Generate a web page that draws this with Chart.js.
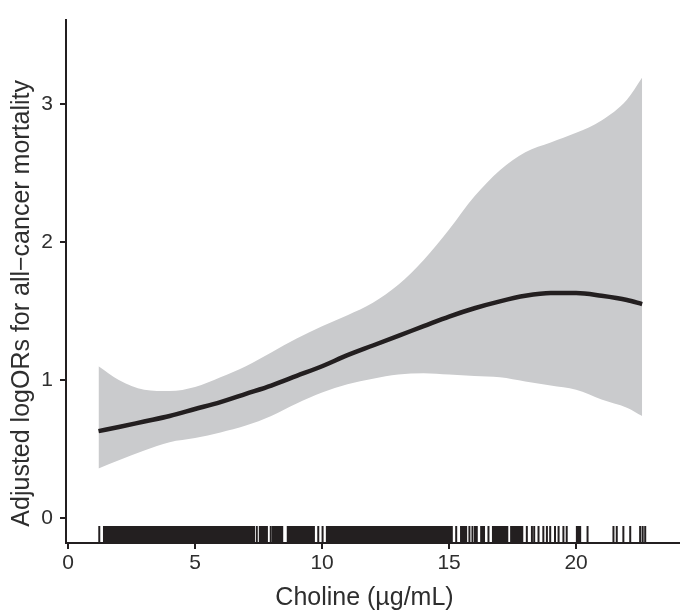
<!DOCTYPE html>
<html>
<head>
<meta charset="utf-8">
<script src="https://cdn.jsdelivr.net/npm/chart.js@4/dist/chart.umd.min.js"></script>
<style>
  html, body { margin: 0; padding: 0; background: #fff; }
  #wrap { width: 685px; height: 612px; }
</style>
</head>
<body>
<div id="wrap"><canvas id="splineChart" width="685" height="612"></canvas></div>
<script>
(function() {
    'use strict';

    // Choline values (µg/mL) where the fitted spline was read
    const cholineX = [1.2, 2, 3, 4, 5, 6, 7, 8, 9, 10, 11, 12, 13, 14, 15, 16, 17, 18, 19, 20, 21, 22, 22.6];
    // Adjusted logOR estimate and 95% CI
    const fitLogOR = [0.63, 0.66, 0.70, 0.74, 0.79, 0.84, 0.90, 0.96, 1.03, 1.10, 1.18, 1.25, 1.32, 1.39, 1.46, 1.52, 1.57, 1.61, 1.63, 1.63, 1.61, 1.58, 1.55];
    const upperCI = [1.10, 1.00, 0.93, 0.92, 0.95, 1.02, 1.10, 1.20, 1.30, 1.39, 1.47, 1.56, 1.69, 1.87, 2.09, 2.33, 2.52, 2.65, 2.72, 2.79, 2.88, 3.03, 3.19];
    const lowerCI = [0.36, 0.42, 0.49, 0.55, 0.58, 0.62, 0.67, 0.74, 0.83, 0.91, 0.97, 1.01, 1.04, 1.05, 1.04, 1.03, 1.02, 0.99, 0.96, 0.93, 0.86, 0.80, 0.74];

    // Rug: stretches where observations are too dense to separate, and single observations
    const rugDense = [[1.37, 7.36], [7.50, 7.87], [8.02, 8.48], [8.60, 9.72], [10.14, 15.15], [15.43, 15.72], [16.22, 16.42], [16.68, 17.34], [17.40, 17.93]];
    const rugSingle = [1.23, 7.43, 7.98, 9.85, 10.02, 15.28, 15.80, 15.92, 16.02, 16.09, 16.55, 18.06, 18.26, 18.35, 18.52, 18.71, 18.85, 18.98, 19.17, 19.31, 19.50, 19.63, 20.03, 20.09, 20.16, 20.45, 21.47, 21.60, 21.86, 22.13, 22.52, 22.62, 22.72];

    const xTicks = [0, 5, 10, 15, 20];
    const yTicks = [0, 1, 2, 3];

    const xTitle = 'Choline (µg/mL)';
    const yTitle = 'Adjusted logORs for all\u2212cancer mortality';

    const rugTop = -0.057;
    const yMin = -0.18;
    const ink = '#231f20';
    const textInk = '#2e2e2e';
    const bandGrey = '#cacbcd';
    const fontFamily = '"Liberation Sans", Arial, Helvetica, sans-serif';

    const toPoints = (ys) => cholineX.map((x, i) => ({ x: x, y: ys[i] }));

    // one short vertical segment per observation, separated by gaps
    const rugLines = [];
    rugSingle.forEach(v => {
        rugLines.push({ x: v, y: rugTop }, { x: v, y: yMin }, { x: v, y: null });
    });

    const datasets = [
        {
            label: 'lower',
            data: toPoints(lowerCI),
            borderWidth: 0,
            pointRadius: 0,
            cubicInterpolationMode: 'monotone',
            fill: false,
            order: 3
        },
        {
            label: 'upper',
            data: toPoints(upperCI),
            borderWidth: 0,
            pointRadius: 0,
            cubicInterpolationMode: 'monotone',
            backgroundColor: bandGrey,
            fill: '-1',
            order: 3
        },
        {
            label: 'fit',
            data: toPoints(fitLogOR),
            borderColor: ink,
            borderWidth: 4.5,
            pointRadius: 0,
            cubicInterpolationMode: 'monotone',
            fill: false,
            order: 0
        },
        {
            label: 'rug',
            data: rugLines,
            borderColor: ink,
            borderWidth: 2,
            pointRadius: 0,
            tension: 0,
            spanGaps: false,
            fill: false,
            order: 1
        }
    ];

    rugDense.forEach(r => {
        datasets.push({
            label: 'rug-dense',
            data: [{ x: r[0], y: rugTop }, { x: r[1], y: rugTop }],
            borderWidth: 0,
            pointRadius: 0,
            tension: 0,
            backgroundColor: ink,
            fill: { value: yMin },
            order: 1
        });
    });

    const whiteBg = {
        id: 'whiteBg',
        beforeDraw(chart) {
            const ctx = chart.ctx;
            ctx.save();
            ctx.fillStyle = '#ffffff';
            ctx.fillRect(0, 0, chart.width, chart.height);
            ctx.restore();
        }
    };

    // axis titles, placed like the original (slightly off the panel centre)
    const axisTitles = {
        id: 'axisTitles',
        afterDraw(chart) {
            const ctx = chart.ctx;
            const area = chart.chartArea;
            ctx.save();
            ctx.fillStyle = textInk;
            ctx.font = '25px ' + fontFamily;
            ctx.textAlign = 'center';
            ctx.textBaseline = 'middle';
            ctx.fillText(xTitle, (area.left + area.right) / 2 - 8, chart.height - 14);
            ctx.translate(22, (area.top + area.bottom) / 2 + 22);
            ctx.rotate(-Math.PI / 2);
            ctx.fillText(yTitle, 0, 0);
            ctx.restore();
        }
    };

    new Chart(document.getElementById('splineChart').getContext('2d'), {
        type: 'line',
        data: { datasets: datasets },
        options: {
            responsive: false,
            animation: false,
            layout: { padding: { top: 12, right: 6, left: 0, bottom: 0 } },
            plugins: {
                legend: { display: false },
                tooltip: { enabled: false }
            },
            scales: {
                x: {
                    type: 'linear',
                    min: -0.08,
                    max: 24.05,
                    afterBuildTicks: (scale) => { scale.ticks = xTicks.map(v => ({ value: v })); },
                    afterFit: (scale) => { scale.height = 69; },
                    border: { display: true, color: ink, width: 2 },
                    grid: { display: true, drawOnChartArea: false, drawTicks: true, tickLength: 6, color: ink, lineWidth: 2 },
                    ticks: {
                        color: textInk,
                        padding: 2,
                        maxRotation: 0,
                        font: { family: fontFamily, size: 21 }
                    },
                    title: { display: false }
                },
                y: {
                    type: 'linear',
                    min: yMin,
                    max: 3.61,
                    afterBuildTicks: (scale) => { scale.ticks = yTicks.map(v => ({ value: v })); },
                    afterFit: (scale) => { scale.width = 66; },
                    border: { display: true, color: ink, width: 2 },
                    grid: { display: true, drawOnChartArea: false, drawTicks: true, tickLength: 6, color: ink, lineWidth: 2 },
                    ticks: {
                        color: textInk,
                        padding: 7,
                        font: { family: fontFamily, size: 21 }
                    },
                    title: { display: false }
                }
            }
        },
        plugins: [whiteBg, axisTitles]
    });
})();
</script>
</body>
</html>
